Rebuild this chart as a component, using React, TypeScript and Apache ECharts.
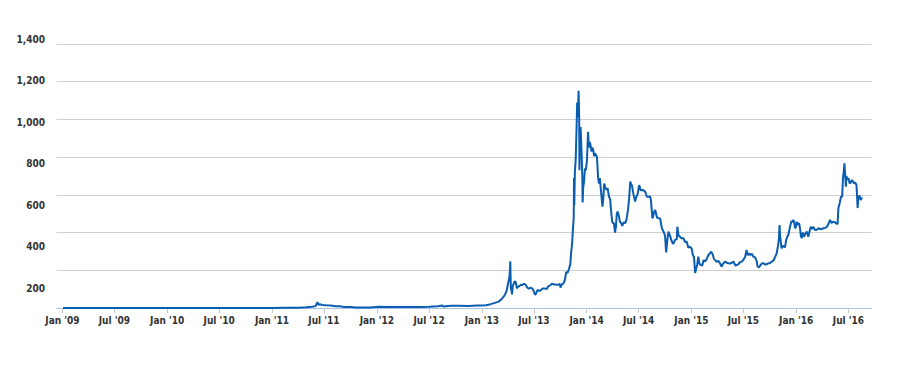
import React, { useEffect, useRef } from "react";
import * as echarts from "echarts";

// x-axis tick positions and their labels
const tickDates: string[] = [
  "2009-01-01", "2009-07-01", "2010-01-01", "2010-07-01",
  "2011-01-01", "2011-07-01", "2012-01-01", "2012-07-01",
  "2013-01-01", "2013-07-01", "2014-01-01", "2014-07-01",
  "2015-01-01", "2015-07-01", "2016-01-01", "2016-07-01",
];
const tickLabels: string[] = [
  "Jan '09", "Jul '09", "Jan '10", "Jul '10",
  "Jan '11", "Jul '11", "Jan '12", "Jul '12",
  "Jan '13", "Jul '13", "Jan '14", "Jul '14",
  "Jan '15", "Jul '15", "Jan '16", "Jul '16",
];
const yTicks: number[] = [200, 400, 600, 800, 1000, 1200, 1400];

const prices2009to2012: [string, number][] = [
  ["2009-01-03", 0], ["2009-07-01", 0], ["2010-01-01", 0], ["2010-07-18", 0.06],
  ["2010-11-06", 0.39], ["2011-01-01", 0.3], ["2011-02-10", 1.0], ["2011-04-01", 0.8],
  ["2011-05-01", 3.5], ["2011-05-20", 7], ["2011-06-02", 10], ["2011-06-08", 31],
  ["2011-06-12", 16], ["2011-06-16", 20], ["2011-06-25", 16.5], ["2011-07-10", 14.5],
  ["2011-07-25", 13.8], ["2011-08-10", 9.5], ["2011-08-25", 9], ["2011-09-10", 5.5],
  ["2011-10-01", 5], ["2011-10-20", 2.5], ["2011-11-18", 2.2], ["2011-12-10", 3.2],
  ["2012-01-08", 7], ["2012-02-05", 5.8], ["2012-03-01", 4.9], ["2012-04-15", 4.9],
  ["2012-06-01", 5.3], ["2012-07-01", 6.7], ["2012-08-01", 9.4], ["2012-08-16", 13.5],
  ["2012-08-20", 8.5], ["2012-09-15", 11.5], ["2012-10-15", 11.8], ["2012-11-15", 11],
  ["2012-12-15", 13.4],
];

const prices2013: [string, number][] = [
  ["2013-01-01", 13.3], ["2013-01-15", 14.5], ["2013-02-01", 20.4], ["2013-02-15", 27],
  ["2013-03-01", 34], ["2013-03-10", 46], ["2013-03-20", 64], ["2013-03-28", 89],
  ["2013-04-03", 135], ["2013-04-07", 165], ["2013-04-09", 205], ["2013-04-10", 248],
  ["2013-04-12", 105], ["2013-04-14", 95], ["2013-04-16", 72], ["2013-04-19", 120],
  ["2013-04-22", 128], ["2013-04-25", 142], ["2013-04-29", 138], ["2013-05-03", 104],
  ["2013-05-07", 112], ["2013-05-12", 117], ["2013-05-17", 123], ["2013-05-22", 122],
  ["2013-05-28", 129], ["2013-06-03", 122], ["2013-06-08", 108], ["2013-06-14", 102],
  ["2013-06-20", 108], ["2013-06-26", 103], ["2013-07-01", 89], ["2013-07-05", 70],
  ["2013-07-09", 78], ["2013-07-14", 96], ["2013-07-20", 90], ["2013-07-26", 95],
  ["2013-08-01", 104], ["2013-08-08", 104], ["2013-08-15", 100], ["2013-08-20", 115],
  ["2013-08-27", 120], ["2013-09-02", 129], ["2013-09-09", 125], ["2013-09-16", 124],
  ["2013-09-23", 122], ["2013-09-30", 128], ["2013-10-02", 108], ["2013-10-06", 124],
  ["2013-10-12", 130], ["2013-10-17", 148], ["2013-10-22", 192], ["2013-10-26", 185],
  ["2013-10-31", 205], ["2013-11-05", 230], ["2013-11-08", 295], ["2013-11-11", 335],
  ["2013-11-14", 410], ["2013-11-17", 480], ["2013-11-18", 690], ["2013-11-19", 545],
  ["2013-11-21", 720], ["2013-11-24", 790], ["2013-11-27", 960], ["2013-11-29", 1090],
  ["2013-12-01", 1010], ["2013-12-03", 1100], ["2013-12-04", 1152], ["2013-12-06", 1010],
  ["2013-12-07", 730], ["2013-12-09", 920], ["2013-12-11", 960], ["2013-12-13", 880],
  ["2013-12-15", 800], ["2013-12-17", 690], ["2013-12-18", 560], ["2013-12-20", 640],
  ["2013-12-23", 670], ["2013-12-26", 740], ["2013-12-29", 730],
];

const prices2014: [string, number][] = [
  ["2014-01-02", 780], ["2014-01-06", 935], ["2014-01-09", 850], ["2014-01-12", 880],
  ["2014-01-15", 860], ["2014-01-18", 830], ["2014-01-21", 850], ["2014-01-24", 838],
  ["2014-01-27", 805], ["2014-01-30", 820], ["2014-02-03", 810], ["2014-02-06", 800],
  ["2014-02-10", 690], ["2014-02-13", 660], ["2014-02-16", 689], ["2014-02-20", 620],
  ["2014-02-25", 537], ["2014-02-28", 580], ["2014-03-03", 660], ["2014-03-07", 640],
  ["2014-03-11", 626], ["2014-03-15", 635], ["2014-03-20", 590], ["2014-03-24", 575],
  ["2014-03-28", 500], ["2014-03-31", 460], ["2014-04-03", 449], ["2014-04-06", 450],
  ["2014-04-10", 400], ["2014-04-13", 430], ["2014-04-16", 500], ["2014-04-19", 511],
  ["2014-04-23", 490], ["2014-04-27", 458], ["2014-05-01", 450], ["2014-05-05", 435],
  ["2014-05-10", 455], ["2014-05-15", 449], ["2014-05-20", 470], ["2014-05-25", 520],
  ["2014-05-29", 580], ["2014-06-02", 670], ["2014-06-04", 660], ["2014-06-08", 650],
  ["2014-06-11", 620], ["2014-06-15", 590], ["2014-06-19", 564], ["2014-06-23", 590],
  ["2014-06-27", 600], ["2014-07-03", 652], ["2014-07-08", 625], ["2014-07-13", 626],
  ["2014-07-18", 625], ["2014-07-24", 617], ["2014-07-30", 590], ["2014-08-05", 590],
  ["2014-08-10", 592], ["2014-08-13", 573], ["2014-08-18", 476], ["2014-08-20", 480],
  ["2014-08-24", 510], ["2014-08-28", 520], ["2014-09-03", 480], ["2014-09-09", 476],
  ["2014-09-14", 475], ["2014-09-20", 423], ["2014-09-26", 405], ["2014-10-01", 385],
  ["2014-10-05", 295], ["2014-10-09", 360], ["2014-10-13", 405], ["2014-10-18", 385],
  ["2014-10-25", 352], ["2014-10-30", 340], ["2014-11-05", 361], ["2014-11-11", 365],
  ["2014-11-13", 431], ["2014-11-17", 385], ["2014-11-22", 378], ["2014-11-27", 370],
  ["2014-12-04", 370], ["2014-12-10", 350], ["2014-12-16", 352], ["2014-12-21", 320],
  ["2014-12-27", 325],
];

const prices2015: [string, number][] = [
  ["2015-01-02", 315], ["2015-01-06", 281], ["2015-01-10", 270], ["2015-01-14", 185],
  ["2015-01-17", 205], ["2015-01-21", 228], ["2015-01-25", 272], ["2015-01-29", 235],
  ["2015-02-03", 228], ["2015-02-08", 225], ["2015-02-12", 254], ["2015-02-18", 246],
  ["2015-02-24", 263], ["2015-03-01", 281], ["2015-03-07", 290], ["2015-03-11", 299],
  ["2015-03-16", 285], ["2015-03-20", 262], ["2015-03-25", 254], ["2015-03-30", 245],
  ["2015-04-05", 250], ["2015-04-11", 236], ["2015-04-16", 219], ["2015-04-21", 235],
  ["2015-04-29", 246], ["2015-05-04", 240], ["2015-05-10", 237], ["2015-05-16", 236],
  ["2015-05-22", 240], ["2015-05-28", 246], ["2015-06-03", 225], ["2015-06-08", 228],
  ["2015-06-14", 233], ["2015-06-20", 244], ["2015-06-26", 246], ["2015-07-02", 258],
  ["2015-07-07", 270], ["2015-07-12", 308], ["2015-07-16", 280], ["2015-07-20", 290],
  ["2015-07-25", 281], ["2015-07-30", 288], ["2015-08-05", 272], ["2015-08-11", 268],
  ["2015-08-17", 246], ["2015-08-19", 222], ["2015-08-24", 215], ["2015-08-29", 226],
  ["2015-09-04", 237], ["2015-09-09", 237], ["2015-09-15", 230], ["2015-09-20", 232],
  ["2015-09-26", 237], ["2015-10-02", 238], ["2015-10-08", 246], ["2015-10-14", 252],
  ["2015-10-20", 272], ["2015-10-25", 290], ["2015-10-29", 325], ["2015-11-02", 370],
  ["2015-11-04", 440], ["2015-11-06", 380], ["2015-11-11", 316], ["2015-11-15", 330],
  ["2015-11-19", 325], ["2015-11-23", 322], ["2015-11-27", 360], ["2015-12-01", 378],
  ["2015-12-05", 390], ["2015-12-08", 413], ["2015-12-12", 440], ["2015-12-16", 463],
  ["2015-12-19", 455], ["2015-12-22", 467], ["2015-12-25", 455], ["2015-12-28", 423],
  ["2015-12-31", 430],
];

const prices2016: [string, number][] = [
  ["2016-01-03", 458], ["2016-01-06", 440], ["2016-01-09", 449], ["2016-01-12", 445],
  ["2016-01-15", 413], ["2016-01-17", 385], ["2016-01-20", 370], ["2016-01-24", 400],
  ["2016-01-28", 378], ["2016-02-02", 395], ["2016-02-07", 405], ["2016-02-12", 378],
  ["2016-02-17", 410], ["2016-02-21", 431], ["2016-02-25", 420], ["2016-03-01", 430],
  ["2016-03-07", 413], ["2016-03-13", 415], ["2016-03-19", 423], ["2016-03-25", 418],
  ["2016-03-31", 420], ["2016-04-05", 423], ["2016-04-11", 425], ["2016-04-17", 431],
  ["2016-04-22", 445], ["2016-04-28", 467], ["2016-05-03", 450], ["2016-05-08", 458],
  ["2016-05-14", 455], ["2016-05-20", 449], ["2016-05-24", 445], ["2016-05-27", 529],
  ["2016-06-01", 560], ["2016-06-05", 590], ["2016-06-09", 590], ["2016-06-12", 690],
  ["2016-06-15", 730], ["2016-06-17", 767], ["2016-06-19", 720], ["2016-06-22", 643],
  ["2016-06-24", 700], ["2016-06-28", 679], ["2016-07-01", 690], ["2016-07-05", 661],
  ["2016-07-09", 665], ["2016-07-13", 679], ["2016-07-17", 670], ["2016-07-21", 661],
  ["2016-07-25", 665], ["2016-07-29", 652], ["2016-08-02", 530], ["2016-08-05", 590],
  ["2016-08-09", 595], ["2016-08-13", 573], ["2016-08-16", 582], ["2016-08-19", 580],
];

const axisStart = "2008-12-12";
const axisEnd = "2016-09-20";

const toTs = (d: string) => Date.parse(d + "T00:00:00Z");

const FONT = "'Liberation Sans Narrow', 'DejaVu Sans Condensed', 'Liberation Sans', sans-serif";

export default function App() {
  const ref = useRef<HTMLDivElement>(null);

  useEffect(() => {
    if (!ref.current) return;
    const chart = echarts.init(ref.current, undefined, { renderer: "svg" });

    const allPrices = [
      ...prices2009to2012, ...prices2013, ...prices2014, ...prices2015, ...prices2016,
    ].map(([d, v]) => [toTs(d), v]);

    const tickTs = tickDates.map(toTs);
    const labelFor = (v: number) => {
      const i = tickTs.findIndex((t) => Math.abs(t - v) < 43200000);
      return i >= 0 ? tickLabels[i] : "";
    };

    chart.setOption({
      animation: false,
      backgroundColor: "#ffffff",
      grid: [
        { left: 56.7, right: 28.3, top: 44, bottom: 60 },
        { left: 53, width: 1, top: 39.3, bottom: 79.7 },
      ],
      xAxis: [
        {
          type: "value",
          gridIndex: 0,
          min: toTs(axisStart),
          max: toTs(axisEnd),
          axisLine: { show: true, onZero: false, lineStyle: { color: "#a9c4e6", width: 1 } },
          axisTick: {
            show: true,
            customValues: tickTs,
            length: 5,
            lineStyle: { color: "#c8c8c8" },
          },
          axisLabel: {
            customValues: tickTs,
            formatter: (v: number) => labelFor(v),
            margin: 7,
            fontSize: 10,
            fontFamily: FONT,
            fontWeight: "bold",
            color: "#333333",
          },
          splitLine: { show: false },
        },
        { type: "value", gridIndex: 1, show: false, min: 0, max: 1 },
      ],
      yAxis: [
        {
          type: "value",
          gridIndex: 0,
          min: 0,
          max: 1400,
          interval: 200,
          axisLabel: { show: false },
          axisLine: { show: false },
          axisTick: { show: false },
          splitLine: { lineStyle: { color: "#cfcfcf", width: 1 } },
        },
        {
          type: "value",
          gridIndex: 1,
          min: yTicks[0],
          max: yTicks[yTicks.length - 1],
          interval: 200,
          axisLabel: {
            formatter: (v: number) => v.toLocaleString("en-US"),
            margin: 8,
            fontSize: 10,
            fontFamily: FONT,
            fontWeight: "bold",
            color: "#333333",
          },
          axisLine: { show: false },
          axisTick: { show: false },
          splitLine: { show: false },
        },
      ],
      series: [
        {
          type: "line",
          xAxisIndex: 0,
          yAxisIndex: 0,
          data: allPrices,
          symbol: "none",
          showSymbol: false,
          lineStyle: { color: "#0a5db0", width: 2 },
        },
      ],
    });

    return () => chart.dispose();
  }, []);

  return (
    <div
      ref={ref}
      style={{ position: "absolute", left: 0, top: 0, width: 900, height: 368 }}
    />
  );
}
